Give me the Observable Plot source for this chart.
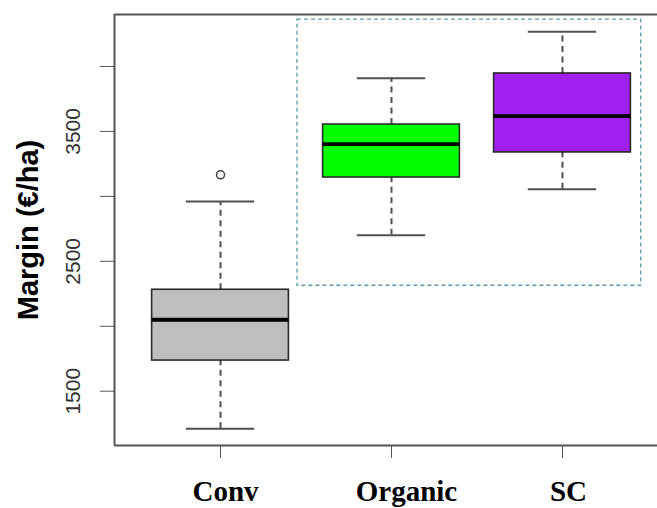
<!DOCTYPE html>
<html>
<head>
<meta charset="utf-8">
<script src="https://cdn.jsdelivr.net/npm/d3@7"></script>
<script src="https://cdn.jsdelivr.net/npm/@observablehq/plot@0.6"></script>
<style>
  html, body { margin: 0; padding: 0; background: #fff; }
  svg { display: block; }
</style>
</head>
<body>
<div id="chart"></div>
<script>
// Categories and five-number summaries
const categories = ["Conv", "Organic", "SC"];
const fills = ["#bebebe", "#00ff00", "#a020f0"];
const whiskerLow = [1210, 2701, 3055];
const q1 = [1736, 3145, 3338];
const median = [2050, 3402, 3617];
const q3 = [2281, 3553, 3946];
const whiskerHigh = [2961, 3910, 4267];
const outliers = [{cat: "Conv", value: 3166}];

// Axis ticks
const yTicks = [1500, 2000, 2500, 3000, 3500, 4000];
const yTickLabels = [1500, 2500, 3500];

// Highlighted region (dashed rectangle), in data units
const highlight = [{x1: 1.45, x2: 3.46, y1: 2312, y2: 4360}];

const xDomain = [0.38, 3.62];
const yDomain = [1082, 4400];

// style: horizontal nudges (px) of the category labels, as in the picture
const labelNudge = [5, 15, 6];

const boxes = categories.map((c, i) => ({
  cat: c, pos: i + 1, fill: fills[i], nudge: labelNudge[i],
  lo: whiskerLow[i], q1: q1[i], med: median[i], q3: q3[i], hi: whiskerHigh[i]
}));
const posOf = c => categories.indexOf(c) + 1;

const gray = "#555";
const boxStroke = "#2a2a2a";
const whisk = "#505050";

const chart = Plot.plot({
  width: 657,
  height: 508,
  marginLeft: 114,
  marginTop: 14,
  marginBottom: 63,
  marginRight: 0,
  style: {color: gray, background: "#fff"},
  x: {domain: xDomain, range: [114, 668], ticks: [1, 2, 3], tickSize: 13, tickFormat: () => "", label: null},
  y: {domain: yDomain, ticks: yTicks, tickSize: 14, tickFormat: () => "", label: null},
  marks: [
    Plot.rect(highlight, {x1: "x1", x2: "x2", y1: "y1", y2: "y2", fill: "none", stroke: "#5b9bab", strokeWidth: 1.3, strokeDasharray: "4,3"}),
    Plot.ruleX(boxes, {x: "pos", y1: "q3", y2: "hi", stroke: whisk, strokeWidth: 2, strokeDasharray: "6,4.5"}),
    Plot.ruleX(boxes, {x: "pos", y1: "lo", y2: "q1", stroke: whisk, strokeWidth: 2, strokeDasharray: "6,4.5"}),
    Plot.ruleY(boxes, {y: "hi", x1: d => d.pos - 0.2, x2: d => d.pos + 0.2, stroke: whisk, strokeWidth: 2}),
    Plot.ruleY(boxes, {y: "lo", x1: d => d.pos - 0.2, x2: d => d.pos + 0.2, stroke: whisk, strokeWidth: 2}),
    Plot.rect(boxes, {x1: d => d.pos - 0.4, x2: d => d.pos + 0.4, y1: "q1", y2: "q3", fill: "fill", stroke: boxStroke, strokeWidth: 1.6}),
    Plot.ruleY(boxes, {y: "med", x1: d => d.pos - 0.4, x2: d => d.pos + 0.4, stroke: "#000", strokeWidth: 3.8}),
    Plot.dot(outliers, {x: d => posOf(d.cat), y: "value", r: 4, stroke: "#444", strokeWidth: 1.5, fill: "none"}),
    Plot.ruleX([xDomain[0]], {stroke: gray, strokeWidth: 2}),
    Plot.ruleY([yDomain[0]], {stroke: gray, strokeWidth: 2}),
    Plot.ruleY([yDomain[1]], {stroke: gray, strokeWidth: 2}),
    Plot.text(yTickLabels, {y: d => d, frameAnchor: "left", textAnchor: "middle", dx: -41, rotate: -90, text: d => String(d),
      fill: "#333", fontSize: 21, fontFamily: "Liberation Sans, Arial, sans-serif"}),
    Plot.text(["Margin (€/ha)"], {frameAnchor: "left", textAnchor: "middle", dx: -86, rotate: -90, text: d => d,
      fill: "#000", fontSize: 29, fontWeight: "bold", fontFamily: "Liberation Sans, Arial, sans-serif"}),
    ...boxes.map(b => Plot.text([b], {x: "pos", frameAnchor: "bottom", dy: 55, dx: b.nudge, text: "cat",
      fill: "#000", fontSize: 29, fontWeight: "bold", fontFamily: "Liberation Serif, Times New Roman, serif"}))
  ]
});
document.getElementById("chart").appendChild(chart);
</script>
</body>
</html>
